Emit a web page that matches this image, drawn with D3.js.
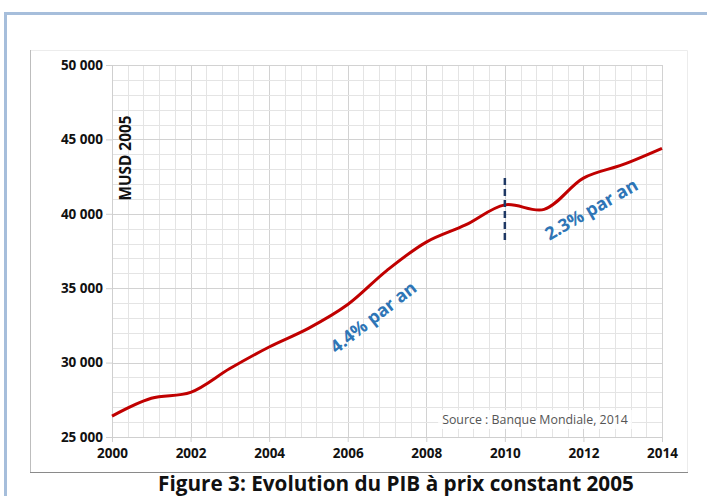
<!DOCTYPE html>
<html><head><meta charset="utf-8">
<script src="https://cdn.jsdelivr.net/npm/d3@7"></script>
<style>body{margin:0;background:#fff}svg{display:block}</style>
</head><body>
<script>
const years = [2000,2001,2002,2003,2004,2005,2006,2007,2008,2009,2010,2011,2012,2013,2014];
const gdp = [26400,27600,28000,29600,31050,32300,33900,36200,38100,39250,40600,40300,42400,43300,44400];
const yTicks = [25000,30000,35000,40000,45000,50000];
const xTicks = [2000,2002,2004,2006,2008,2010,2012,2014];
const yLabel = "MUSD 2005";
const caption = "Figure 3: Evolution du PIB à prix constant 2005";
const source = "Source : Banque Mondiale, 2014";
const notes = [{text:"4.4% par an", x:2006.65, y:33050, angle:-38},{text:"2.3% par an", x:2012.2, y:40300, angle:-30}];
const breakYear = 2010, breakRange = [38100, 42400];

const W=707,H=496;
const svg=d3.select("body").append("svg").attr("width",W).attr("height",H);
const font="'Open Sans', sans-serif";
function fit(sel, target){ const w=sel.node().getComputedTextLength(); const fs=+sel.attr("font-size"); sel.attr("font-size", fs*target/w); }

// outer frame
svg.append("rect").attr("x",5.5).attr("y",13.5).attr("width",720).attr("height",520)
  .attr("fill","none").attr("stroke","#a6bedb").attr("stroke-width",3);
// chart area box
svg.append("path").attr("d","M30.5,50.5H687.5V472.5H30.5Z").attr("fill","none").attr("stroke","#ececec").attr("stroke-width",1);
svg.append("line").attr("x1",30).attr("x2",688).attr("y1",472.5).attr("y2",472.5).attr("stroke","#8a8a8a").attr("stroke-width",1.2);
svg.append("line").attr("x1",30.5).attr("x2",30.5).attr("y1",50).attr("y2",472).attr("stroke","#bdbdbd").attr("stroke-width",1);

const x=d3.scaleLinear().domain([2000,2014]).range([112,662]);
const y=d3.scaleLinear().domain([25000,50000]).range([437,65]);

const g=svg.append("g");
const vx=d3.range(0,14.01,0.4).map(d=>2000+d);
g.selectAll(".vg").data(vx).enter().append("line")
  .attr("x1",d=>Math.round(x(d))+0.5).attr("x2",d=>Math.round(x(d))+0.5)
  .attr("y1",y(50000)).attr("y2",y(25000))
  .attr("stroke",d=>Math.abs((d-2000)/2-Math.round((d-2000)/2))<0.01?"#d2d2d2":"#e4e4e4").attr("stroke-width",1);
const hy=d3.range(25000,50001,1000);
g.selectAll(".hg").data(hy).enter().append("line")
  .attr("x1",x(2000)).attr("x2",x(2014))
  .attr("y1",d=>Math.round(y(d))+0.5).attr("y2",d=>Math.round(y(d))+0.5)
  .attr("stroke",d=>d%5000===0?"#d2d2d2":"#e4e4e4").attr("stroke-width",1);

// axes
const yAxis=d3.axisLeft(y).tickValues(yTicks).tickSize(6).tickPadding(3)
  .tickFormat(d=>d3.format(",")(d).replace(/,/g," "));
const ya=svg.append("g").attr("transform",`translate(${x(2000)},0)`).call(yAxis);
ya.select(".domain").attr("stroke","#cfcfcf");
ya.selectAll(".tick line").attr("stroke","#cfcfcf");
ya.selectAll("text").attr("font-family",font).attr("font-weight","bold").attr("font-size",13.5).attr("fill","#111");

const xAxis=d3.axisBottom(x).tickValues(xTicks).tickSize(5).tickPadding(6).tickFormat(d3.format("d"));
const xa=svg.append("g").attr("transform",`translate(0,${y(25000)})`).call(xAxis);
xa.select(".domain").attr("stroke","#cfcfcf");
xa.selectAll(".tick line").attr("stroke","#cfcfcf");
xa.selectAll("text").attr("font-family",font).attr("font-weight","bold").attr("font-size",13.5).attr("fill","#111");

// y label
const yl=svg.append("text").attr("transform","translate(131,158) rotate(-90)").attr("text-anchor","middle")
  .attr("font-family",font).attr("font-weight","bold").attr("font-size",15).attr("fill","#111").text(yLabel);
fit(yl,85);

// source box
const sg=svg.append("g");
const st=sg.append("text").attr("x",535).attr("y",424).attr("text-anchor","middle")
  .attr("font-family",font).attr("font-size",11.5).attr("fill","#555").text(source);
fit(st,186);
const bb=st.node().getBBox();
sg.insert("rect",()=>st.node()).attr("x",bb.x-4).attr("y",bb.y-1).attr("width",bb.width+8).attr("height",bb.height+2).attr("fill","#fff").attr("fill-opacity",0.85);

// line
const line=d3.line().x((d,i)=>x(years[i])).y(d=>y(d)).curve(d3.curveCatmullRom.alpha(0.5));
svg.append("path").datum(gdp).attr("d",line).attr("fill","none").attr("stroke","#c00000").attr("stroke-width",3);

// break line
svg.append("line").attr("x1",x(breakYear)).attr("x2",x(breakYear)).attr("y1",y(breakRange[1])).attr("y2",y(breakRange[0]))
  .attr("stroke","#1f3864").attr("stroke-width",2.5).attr("stroke-dasharray","7,4");

// notes
svg.selectAll(".note").data(notes).enter().append("text")
  .attr("transform",d=>`translate(${x(d.x)},${y(d.y)}) rotate(${d.angle})`)
  .attr("text-anchor","middle").attr("dy","0.35em").attr("font-family",font).attr("font-weight","bold").attr("font-size",15.5)
  .attr("fill","#2e75b6").text(d=>d.text)
  .each(function(){ fit(d3.select(this),104); });

// caption
const cp=svg.append("text").attr("x",396).attr("y",490.5).attr("text-anchor","middle")
  .attr("font-family",font).attr("font-weight","bold").attr("font-size",17).attr("fill","#111").text(caption);
fit(cp,476);
</script>
</body></html>
